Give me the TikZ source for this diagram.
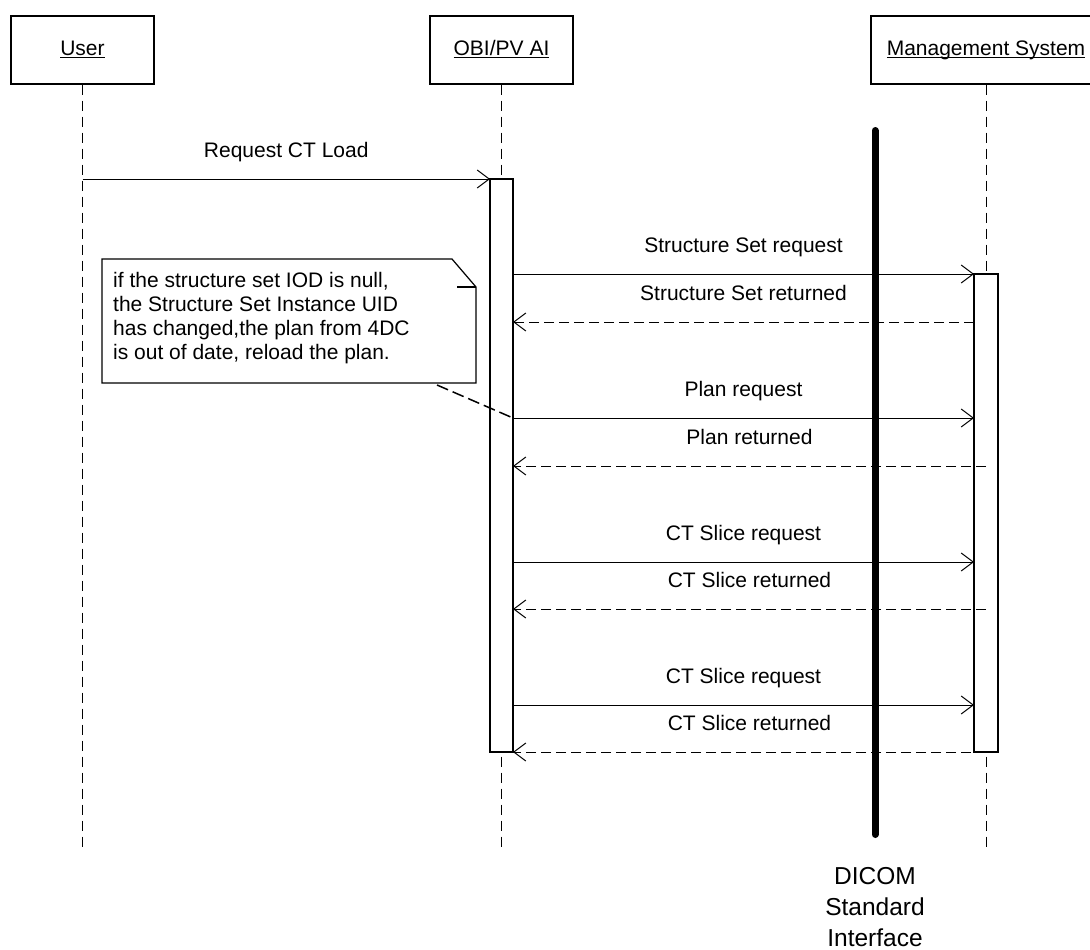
\documentclass[tikz,border=0pt]{standalone}
\usepackage{fontspec}
\setmainfont{Liberation Sans}
\usetikzlibrary{arrows.meta}
\newcommand\myul[1]{\setbox0\hbox{#1}\rlap{\rule[-3pt]{\wd0}{1pt}}\box0}
\begin{document}
\begin{tikzpicture}[x=1pt,y=-1pt,
  actor/.style={draw,line width=1.2pt,minimum height=68pt,inner sep=0pt,
    text height=15pt,text depth=4pt,font=\fontsize{21}{24}\selectfont},
  life/.style={line width=1pt,dash pattern=on 10pt off 6pt},
  bar/.style={draw,fill=white,line width=1.2pt,inner sep=0pt},
  msg/.style={line width=1pt,-{Straight Barb[length=12pt,width=18pt,line width=1pt]}},
  ret/.style={msg,dash pattern=on 10pt off 5pt},
  lbl/.style={font=\fontsize{21}{24}\selectfont,anchor=base,inner sep=0pt,yshift=22pt},
  notebox/.style={line width=1.2pt},
  notelink/.style={line width=1.5pt,dash pattern=on 12pt off 5pt},
  dicom/.style={line width=7pt,line cap=round},
]
\useasboundingbox (0,0) rectangle (1090,950);
\clip (0,0) rectangle (1090,950);

% actors
\node[actor,minimum width=143pt] (user) at (82.5,50) {\myul{User}};
\node[actor,minimum width=143pt] (obi) at (501.5,50) {\myul{OBI/PV AI}};
\node[actor,minimum width=230pt] (mgmt) at (986,50) {\myul{Management System}};

% lifeline ends
\coordinate (userend) at (82.5,848);
\coordinate (obiend) at (501.5,848);
\coordinate (mgmtend) at (986,848);
\draw[life] (user.south) -- (userend);
\draw[life] (obi.south) -- (obiend);
\draw[life] (mgmt.south) -- (mgmtend);

% DICOM interface line
\coordinate (dtop) at (875,130.5);
\coordinate (dbot) at (875,834.5);
\draw[dicom] (dtop) -- (dbot);
\node[font=\fontsize{24.5}{31}\selectfont,align=center,anchor=north,inner sep=0pt] (dicomlbl)
  at (875,867) {DICOM\\Standard\\Interface};

% activation bars
\node[bar,minimum width=23pt,minimum height=573pt] (obibar) at (501.5,465.5) {};
\node[bar,minimum width=24pt,minimum height=478pt] (mgmtbar) at (986,513) {};

% message end points
\coordinate (u1) at (82.5,179);
\coordinate (o1) at (490,179);
\coordinate (o2) at (513,274);  \coordinate (m2) at (974,274);
\coordinate (o3) at (513,322);  \coordinate (m3) at (974,322);
\coordinate (o4) at (513,418);  \coordinate (m4) at (974,418);
\coordinate (o5) at (513,466);  \coordinate (m5) at (986,466);
\coordinate (o6) at (513,562);  \coordinate (m6) at (974,562);
\coordinate (o7) at (513,609);  \coordinate (m7) at (986,609);
\coordinate (o8) at (513,705);  \coordinate (m8) at (974,705);
\coordinate (o9) at (513,752);  \coordinate (m9) at (986,752);

\draw[msg] (u1) -- node[lbl] (l1) {Request CT Load} (o1);
\draw[msg] (o2) -- node[lbl] (l2) {Structure Set request} (m2);
\draw[ret] (m3) -- node[lbl] (l3) {Structure Set returned} (o3);
\draw[msg] (o4) -- node[lbl] (l4) {Plan request} (m4);
\draw[ret] (m5) -- node[lbl] (l5) {Plan returned} (o5);
\draw[msg] (o6) -- node[lbl] (l6) {CT Slice request} (m6);
\draw[ret] (m7) -- node[lbl] (l7) {CT Slice returned} (o7);
\draw[msg] (o8) -- node[lbl] (l8) {CT Slice request} (m8);
\draw[ret] (m9) -- node[lbl] (l9) {CT Slice returned} (o9);

% note
\draw[notebox,fill=white] (102,259) -- (452,259) -- (476,287) -- (476,383) -- (102,383) -- cycle;
\draw[notebox] (457,287) -- (476,287);
\node[font=\fontsize{21}{24}\selectfont,align=left,anchor=north west,inner sep=0pt] (note)
  at (113,272) {if the structure set IOD is null,\\the Structure Set Instance UID\\has changed,the plan from 4DC\\is out of date, reload the plan.};
\coordinate (nl) at (437,385);
\draw[notelink] (nl) -- (o4);
\end{tikzpicture}
\end{document}
